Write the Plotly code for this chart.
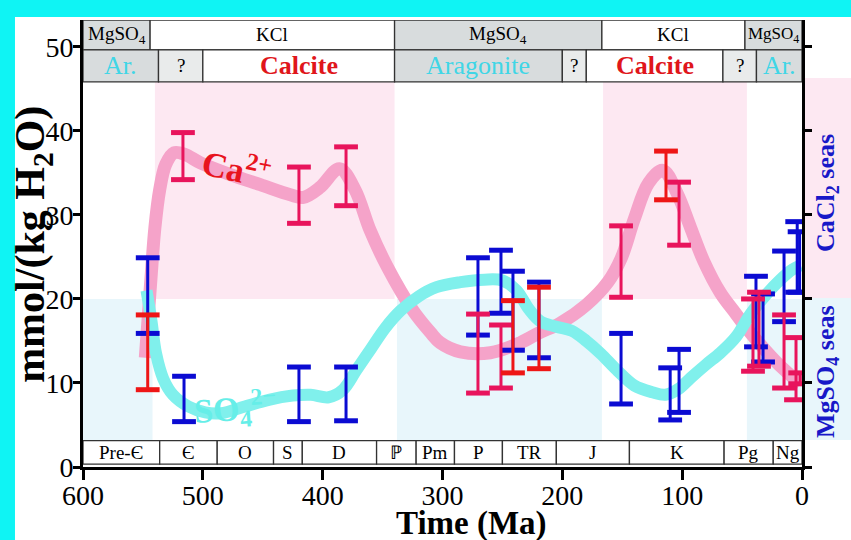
import plotly.graph_objects as go

# ---------------- data ----------------
# smooth concentration curves (Ma, mmol/kg H2O)
ca_curve_age = [548, 546, 543, 540, 536, 531, 524, 515, 502, 477, 452, 427, 416, 402, 386,
                373, 360.5, 346, 325, 310, 302, 285, 260, 235, 219, 202, 180, 162, 151,
                140, 128, 116, 104, 93, 82, 68, 55, 45, 30, 18, 6, 1]
ca_curve_val = [13, 17, 23, 28.5, 33, 36, 37.4, 37.2, 36.2, 34.8, 33.6, 32.4, 32.1, 33.3, 35.5,
                33, 28.2, 23.8, 18.7, 16, 14.8, 13.7, 13.6, 14.8, 16.0, 17.1, 19.3, 22, 24.8,
                29.5, 33.8, 35.3, 32.5, 28.5, 24.5, 20.7, 18.2, 16.3, 13.8, 12, 10.5, 10]

so4_curve_age = [547, 543, 539, 533, 525, 512, 498, 485, 465, 445, 425, 410, 395, 383, 372,
                 360, 348, 335, 320, 305, 285, 265, 250, 238, 228, 218, 205, 192, 180, 168,
                 155, 140, 125, 114, 103, 93, 80, 68, 55, 43, 30, 18, 8, 1]
so4_curve_val = [21, 17.5, 13.5, 10.5, 8.6, 7.2, 6.5, 6.4, 7.2, 8.0, 8.5, 8.6, 8.3, 9.2, 11.5,
                 14, 16.5, 18.6, 20.3, 21.4, 22.0, 22.3, 22.2, 21, 18.8, 17.3, 16.7, 16.2, 15, 13.5,
                 11.6, 9.7, 8.9, 8.6, 9.3, 10.6, 12.2, 13.6, 15.5, 18.2, 20.5, 22.3, 23.5, 24]

# Ca2+ fluid-inclusion ranges (crimson group)
ca_a_age = [516.6, 419.8, 380.5, 270.4, 251.2, 151, 102.6, 40.9, 35.9, 15, 5, 1.5]
ca_a_low = [34.2, 29.0, 31.1, 8.8, 9.4, 20.2, 26.4, 11.4, 12.0, 9.4, 8.0, 9.9]
ca_a_high = [39.8, 35.7, 38.1, 18.2, 16.9, 28.7, 33.9, 20.0, 20.8, 18.1, 15.4, 11.2]
# Ca2+ ranges (red group)
ca_b_age = [546, 241.2, 219.5, 113.5]
ca_b_low = [9.2, 11.2, 11.7, 31.8]
ca_b_high = [18.1, 19.8, 21.4, 37.6]
# SO4 2- ranges
so4_age = [546, 515.7, 419.8, 380.5, 270.4, 251.2, 241.2, 219.5, 151, 110, 102.6, 38.4, 32.5, 15, 4, 2]
so4_low = [15.9, 5.4, 5.4, 5.5, 15.7, 18.3, 13.9, 13.0, 7.5, 5.6, 6.5, 14.3, 12.5, 17.3, 20.8, 20.8]
so4_high = [24.9, 10.8, 11.9, 11.9, 24.9, 25.8, 23.3, 22.0, 15.9, 11.8, 14.0, 22.7, 20.6, 25.7, 29.2, 28.0]

# header rows
salt_edges = [600, 544, 340, 167, 47.6, 0]
salt_labels = ["MgSO<sub>4</sub>", "KCl", "MgSO<sub>4</sub>", "KCl", "MgSO<sub>4</sub>"]
min_edges = [600, 537, 500, 340, 200, 180, 66, 38, 0]
min_labels = ["Ar.", "?", "Calcite", "Aragonite", "?", "Calcite", "?", "Ar."]
period_edges = [600, 536, 488, 441, 417, 355, 322, 290, 250, 205, 144, 65, 24, 0]
period_labels = ["Pre-Є", "Є", "O", "S", "D", "ℙ", "Pm", "P", "TR", "J", "K", "Pg", "Ng"]

# sea-type shading intervals
cacl2_intervals = [(540, 340), (166, 46)]
mgso4_intervals = [(600, 542), (338, 167), (46, 0)]

x_ticks = [600, 500, 400, 300, 200, 100, 0]
y_ticks = [0, 10, 20, 30, 40, 50]

# ---------------- style ----------------
SERIF = "Liberation Serif, Times New Roman, serif"
PINK_LINE = "#f5a3c9"
CYAN_LINE = "#80f0ec"
CRIMSON = "#e8145c"
RED = "#ee1616"
BLUE = "#0b0bd2"
PINK_BG = "#fde8f2"
BLUE_BG = "#e8f6fb"
GRAY = "#d8dcdd"
LIGHT = "#e9ebeb"

Y_TOP = 53.2
ROW1 = 49.64
ROW2 = 45.83
PER_TOP = 3.13
PER_BOT = 0.35

fig = go.Figure()

shapes = []
annotations = []

# shading
for a, b in cacl2_intervals:
    shapes.append(dict(type="rect", xref="x", yref="y", x0=a, x1=b, y0=20, y1=ROW2,
                       fillcolor=PINK_BG, line=dict(width=0), layer="below"))
for a, b in mgso4_intervals:
    shapes.append(dict(type="rect", xref="x", yref="y", x0=a, x1=b, y0=PER_TOP, y1=20,
                       fillcolor=BLUE_BG, line=dict(width=0), layer="below"))

# header row 1
salt_fill = [GRAY, "white", GRAY, "white", GRAY]
for i, lab in enumerate(salt_labels):
    a, b = salt_edges[i], salt_edges[i + 1]
    shapes.append(dict(type="rect", xref="x", yref="y", x0=a, x1=b, y0=ROW1, y1=Y_TOP,
                       fillcolor=salt_fill[i], line=dict(color="#333", width=1.3), layer="below"))
    annotations.append(dict(x=(a + b) / 2, y=(ROW1 + Y_TOP) / 2, xref="x", yref="y",
                            xanchor="center", yanchor="middle",
                            text=lab, showarrow=False,
                            font=dict(family=SERIF, size=19 if i < 4 else 17, color="black")))

# header row 2
min_fill = [GRAY, LIGHT, "white", GRAY, LIGHT, "white", LIGHT, GRAY]
for i, lab in enumerate(min_labels):
    a, b = min_edges[i], min_edges[i + 1]
    shapes.append(dict(type="rect", xref="x", yref="y", x0=a, x1=b, y0=ROW2, y1=ROW1,
                       fillcolor=min_fill[i], line=dict(color="#333", width=1.3), layer="below"))
    if lab == "Calcite":
        f = dict(family=SERIF, size=26, color="#e0161b")
        txt = "<b>Calcite</b>"
    elif lab in ("Aragonite", "Ar."):
        f = dict(family=SERIF, size=26, color="#40d6e6")
        txt = lab
    else:
        f = dict(family=SERIF, size=19, color="black")
        txt = lab
    annotations.append(dict(x=(a + b) / 2, y=(ROW2 + ROW1) / 2, xref="x", yref="y",
                            xanchor="center", yanchor="middle",
                            text=txt, showarrow=False, font=f))

# geologic periods
for i, lab in enumerate(period_labels):
    a, b = period_edges[i], period_edges[i + 1]
    shapes.append(dict(type="rect", xref="x", yref="y", x0=a, x1=b, y0=PER_BOT, y1=PER_TOP,
                       fillcolor="white", line=dict(color="#333", width=1.3), layer="below"))
    annotations.append(dict(x=(a + b) / 2, y=(PER_BOT + PER_TOP) / 2, xref="x", yref="y",
                            xanchor="center", yanchor="middle",
                            text=lab, showarrow=False,
                            font=dict(family=SERIF, size=19, color="black")))

# outside strip on the right
shapes.append(dict(type="rect", xref="paper", yref="paper", x0=1.0, x1=1.07, y0=0.378, y1=0.870,
                   fillcolor=PINK_BG, line=dict(width=0), layer="below"))
shapes.append(dict(type="rect", xref="paper", yref="paper", x0=1.0, x1=1.07, y0=0.0604, y1=0.378,
                   fillcolor=BLUE_BG, line=dict(width=0), layer="below"))
# cyan frame
shapes.append(dict(type="rect", xref="paper", yref="paper", x0=-0.12, x1=-0.0946, y0=-0.17, y1=1.05,
                   fillcolor="#0ff4f4", line=dict(width=0), layer="above"))
shapes.append(dict(type="rect", xref="paper", yref="paper", x0=-0.12, x1=1.07, y0=1.0067, y1=1.05,
                   fillcolor="#0ff4f4", line=dict(width=0), layer="above"))

# curves
fig.add_trace(go.Scatter(x=ca_curve_age, y=ca_curve_val, mode="lines",
                         line=dict(color=PINK_LINE, width=13, shape="spline", smoothing=1.0),
                         hoverinfo="skip"))
fig.add_trace(go.Scatter(x=so4_curve_age, y=so4_curve_val, mode="lines",
                         line=dict(color=CYAN_LINE, width=12, shape="spline", smoothing=1.0),
                         hoverinfo="skip"))


def add_ranges(ages, lows, highs, color):
    xs, ys = [], []
    for a, lo, hi in zip(ages, lows, highs):
        xs += [a, a, None]
        ys += [lo, hi, None]
    fig.add_trace(go.Scatter(x=xs, y=ys, mode="lines", line=dict(color=color, width=3),
                             hoverinfo="skip"))
    fig.add_trace(go.Scatter(x=list(ages) + list(ages), y=list(lows) + list(highs), mode="markers",
                             marker=dict(symbol="line-ew", size=17,
                                         line=dict(color=color, width=5)),
                             hoverinfo="skip"))


add_ranges(so4_age, so4_low, so4_high, BLUE)
add_ranges(ca_a_age, ca_a_low, ca_a_high, CRIMSON)
add_ranges(ca_b_age, ca_b_low, ca_b_high, RED)

# curve labels
annotations.append(dict(x=471.5, y=35.6, xref="x", yref="y", text="<b>Ca<sup>2+</sup></b>",
                        xanchor="center", yanchor="middle",
                        showarrow=False, textangle=12,
                        font=dict(family=SERIF, size=35, color="#e8141e")))
annotations.append(dict(x=473, y=7.0, xref="x", yref="y", text="<b>SO<sub>4</sub><sup>2−</sup></b>",
                        xanchor="center", yanchor="middle",
                        showarrow=False, textangle=-4,
                        font=dict(family=SERIF, size=34, color="#66eee8")))
# right side labels
annotations.append(dict(x=1.0348, y=0.613, xref="paper", yref="paper",
                        xanchor="center", yanchor="middle",
                        text="<b>CaCl<sub>2</sub> seas</b>", showarrow=False, textangle=-90,
                        font=dict(family=SERIF, size=26, color="#1818c8")))
annotations.append(dict(x=1.0348, y=0.2125, xref="paper", yref="paper",
                        xanchor="center", yanchor="middle",
                        text="<b>MgSO<sub>4</sub> seas</b>", showarrow=False, textangle=-90,
                        font=dict(family=SERIF, size=26, color="#1818c8")))
# axis titles
annotations.append(dict(x=0.541, y=-0.1265, xref="paper", yref="paper",
                        xanchor="center", yanchor="middle",
                        text="<b>Time (Ma)</b>", showarrow=False,
                        font=dict(family=SERIF, size=33, color="black")))
annotations.append(dict(x=-0.0695, y=0.497, xref="paper", yref="paper",
                        xanchor="center", yanchor="middle",
                        text="<b>mmol/(kg H<sub>2</sub>O)</b>", showarrow=False, textangle=-90,
                        font=dict(family=SERIF, size=42, color="black")))

fig.update_layout(
    width=851, height=540,
    margin=dict(l=83, r=49, t=20, b=73),
    paper_bgcolor="white", plot_bgcolor="white",
    showlegend=False,
    shapes=shapes, annotations=annotations,
    xaxis=dict(range=[600, 0], tickvals=x_ticks, ticktext=[str(v) for v in x_ticks],
               showgrid=False, zeroline=False, showline=True, linecolor="black", linewidth=3,
               ticks="outside", ticklen=10, tickwidth=3, tickcolor="black",
               ticklabelstandoff=-9,
               tickfont=dict(family=SERIF, size=28, color="black")),
    yaxis=dict(range=[0, Y_TOP], tickvals=y_ticks, ticktext=[str(v) for v in y_ticks],
               showgrid=False, zeroline=False, showline=True, linecolor="black", linewidth=3,
               mirror="ticks",
               ticks="outside", ticklen=7, tickwidth=3, tickcolor="black",
               ticklabelstandoff=-6,
               tickfont=dict(family=SERIF, size=28, color="black")),
)

fig.write_html("out.html", config={"displayModeBar": False},
               post_script="document.body.style.margin='0';document.body.style.overflow='hidden';")
